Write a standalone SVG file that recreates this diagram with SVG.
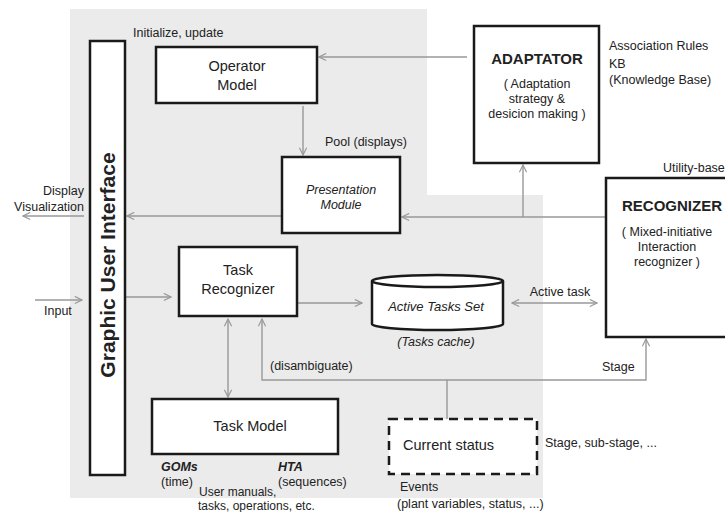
<svg xmlns="http://www.w3.org/2000/svg" width="725" height="512" viewBox="0 0 725 512">
<defs>
<marker id="ah" viewBox="0 0 10 10" refX="9" refY="5" markerWidth="9" markerHeight="9" markerUnits="userSpaceOnUse" orient="auto-start-reverse">
<path d="M1,1 L9,5 L1,9" fill="none" stroke="#999" stroke-width="1.3"/>
</marker>
<style>
.box{fill:#fff;stroke:#1a1a1a;stroke-width:2.5}
.dash{fill:#fff;stroke:#1a1a1a;stroke-width:2.5;stroke-dasharray:9,6}
.c{fill:none;stroke:#999;stroke-width:1.4}
.a{marker-end:url(#ah)}
.b{marker-start:url(#ah);marker-end:url(#ah)}
text{font-family:"Liberation Sans","Open Sans",sans-serif;fill:#222;font-size:12.5px}
.m{text-anchor:middle}
.e{text-anchor:end}
.n{font-size:14.5px}
.h{font-size:15px;font-weight:bold}
.i{font-style:italic}
.bd{font-weight:bold}
</style>
</defs>
<rect width="725" height="512" fill="#fff"/>
<path d="M70,9 H427 V195 H543 V498 H70 Z" fill="#ebebeb"/>

<g id="connectors">
<line class="c a" x1="467" y1="57" x2="319" y2="57"/>
<line class="c a" x1="303" y1="106" x2="303" y2="155"/>
<line class="c a" x1="606" y1="217" x2="402" y2="217"/>
<line class="c a" x1="523" y1="217" x2="523" y2="165"/>
<line class="c a" x1="282" y1="216" x2="127" y2="216"/>
<line class="c a" x1="84" y1="216" x2="23" y2="216"/>
<line class="c a" x1="35" y1="300" x2="82" y2="300"/>
<line class="c a" x1="125" y1="297" x2="171" y2="297"/>
<line class="c a" x1="297" y1="303" x2="362" y2="303"/>
<line class="c b" x1="512" y1="303" x2="597" y2="303"/>
<line class="c b" x1="228" y1="319" x2="228" y2="397"/>
<polyline class="c a" points="447,419 447,380 646,380 646,339"/>
<polyline class="c a" points="447,380 262,380 262,319"/>
</g>

<g id="gui">
<rect class="box" x="90" y="41" width="35" height="434"/>
<text class="bd" transform="translate(115,265) rotate(-90)" text-anchor="middle" style="font-size:21px">Graphic User Interface</text>
</g>

<g id="operator-model">
<rect class="box" x="156" y="47" width="161" height="56"/>
<text class="n m" x="237" y="71">Operator<tspan x="237" dy="19">Model</tspan></text>
<text x="133" y="37">Initialize, update</text>
</g>

<g id="presentation-module">
<rect class="box" x="282" y="157" width="118" height="76"/>
<text class="m i" x="341" y="194">Presentation<tspan x="341" dy="15">Module</tspan></text>
<text x="325" y="146">Pool (displays)</text>
</g>

<g id="adaptator">
<rect class="box" x="474" y="26" width="125" height="137"/>
<text class="m h" x="537" y="64">ADAPTATOR</text>
<text class="m" x="537" y="88">( Adaptation<tspan x="537" dy="15">strategy &amp;</tspan><tspan x="537" dy="15">desicion making )</tspan></text>
<text x="609" y="50">Association Rules</text>
<text x="609" y="68">KB<tspan x="609" dy="16">(Knowledge Base)</tspan></text>
</g>

<g id="recognizer">
<rect class="box" x="606" y="178" width="130" height="159"/>
<text x="663" y="172">Utility-base</text>
<text class="h" x="622" y="211">RECOGNIZER</text>
<text class="m" x="667" y="236">( Mixed-initiative<tspan x="667" dy="15">Interaction</tspan><tspan x="667" dy="15">recognizer )</tspan></text>
</g>

<g id="task-recognizer">
<rect class="box" x="179" y="247" width="118" height="69"/>
<text class="n m" x="238" y="275">Task<tspan x="238" dy="19">Recognizer</tspan></text>
<text x="44" y="315">Input</text>
<text class="e" x="84" y="195">Display<tspan x="84" dy="16">Visualization</tspan></text>
</g>

<g id="active-tasks-set">
<path class="box" d="M372,281 V324 A65.5,6 0 0 0 503,324 V281"/>
<ellipse class="box" cx="437.5" cy="281" rx="65.5" ry="6"/>
<text class="m i" x="436" y="311" style="font-size:13px">Active Tasks Set</text>
<text class="m i" x="436" y="346">(Tasks cache)</text>
<text class="m" x="560" y="296">Active task</text>
</g>

<g id="task-model">
<rect class="box" x="152" y="399" width="186" height="55"/>
<text class="n m" x="250" y="431">Task Model</text>
<text x="161" y="471"><tspan class="bd i">GOMs</tspan><tspan x="161" dy="15">(time)</tspan></text>
<text x="278" y="471"><tspan class="bd i">HTA</tspan><tspan x="278" dy="15">(sequences)</tspan></text>
<text x="199" y="496" style="font-size:12px">User manuals,<tspan x="198" dy="14">tasks, operations, etc.</tspan></text>
<text x="270" y="370">(disambiguate)</text>
<text x="602" y="371">Stage</text>
</g>

<g id="current-status">
<rect class="dash" x="389" y="419" width="148" height="55"/>
<text class="n" x="403" y="450">Current status</text>
<text x="545" y="447">Stage, sub-stage, ...</text>
<text x="400" y="491">Events<tspan x="397" dy="17">(plant variables, status, ...)</tspan></text>
</g>
</svg>
